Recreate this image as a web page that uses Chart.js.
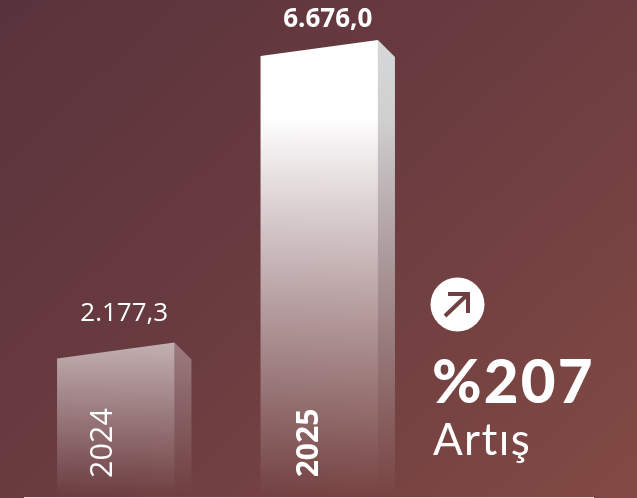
<!DOCTYPE html>
<html lang="tr">
<head>
  <meta charset="UTF-8">
  <title>Artış</title>
  <script src="https://cdn.jsdelivr.net/npm/chart.js"></script>
  <style>
    html, body {
      margin: 0;
      padding: 0;
      width: 637px;
      height: 498px;
      overflow: hidden;
    }
    body {
      position: relative;
      font-family: Lato, sans-serif;
      color: #fff;
      background: linear-gradient(137deg, #59333c 0%, #6b3c40 50%, #824a44 100%);
    }
    #wrap {
      position: absolute;
      left: 0;
      top: 0;
      width: 637px;
      height: 498px;
    }
    #icon {
      position: absolute;
      left: 430px;
      top: 277px;
    }
    #pct {
      position: absolute;
      left: 432px;
      top: 347px;
      font-size: 60px;
      font-weight: 900;
      line-height: 66px;
      letter-spacing: 2.2px;
    }
    #sub {
      position: absolute;
      left: 433px;
      top: 413px;
      font-size: 44px;
      line-height: 50px;
      letter-spacing: 1.4px;
    }
  </style>
</head>
<body>
  <div id="wrap"><canvas id="chart" width="637" height="498"></canvas></div>
  <svg id="icon" width="55" height="55" viewBox="0 0 55 55">
    <circle cx="27.5" cy="27.5" r="27" fill="#fff"/>
    <path d="M15 39 L38 17 M18 17 L38 17 L38 36" fill="none" stroke="#6f3f42" stroke-width="4"/>
  </svg>
  <div id="pct">%207</div>
  <div id="sub">Artış</div>

  <script>
    const years = ['2024', '2025'];
    const values = [2177.3, 6676.0];
    const valueLabels = ['2.177,3', '6.676,0'];
    const boldBar = [false, true];

    const slant = 8;
    const depth = 17;

    function frontGradient(ctx, top, base, i) {
      const g = ctx.createLinearGradient(0, top, 0, base);
      if (i === 1) {
        g.addColorStop(0, 'rgba(255,255,255,1)');
        g.addColorStop(0.17, 'rgba(255,255,255,1)');
        g.addColorStop(1, 'rgba(255,255,255,0)');
      } else {
        g.addColorStop(0, 'rgba(255,255,255,0.6)');
        g.addColorStop(1, 'rgba(255,255,255,0)');
      }
      return g;
    }

    function sideGradient(ctx, top, base, i) {
      const g = ctx.createLinearGradient(0, top, 0, base);
      if (i === 1) {
        g.addColorStop(0, 'rgba(214,216,217,1)');
        g.addColorStop(0.17, 'rgba(214,216,217,0.95)');
        g.addColorStop(1, 'rgba(214,216,217,0)');
      } else {
        g.addColorStop(0, 'rgba(255,255,255,0.33)');
        g.addColorStop(1, 'rgba(255,255,255,0)');
      }
      return g;
    }

    // the bars get a slanted top and a side face, so they are drawn here
    const slantBars = {
      id: 'slantBars',
      afterDatasetsDraw(chart) {
        const ctx = chart.ctx;
        const bars = chart.getDatasetMeta(0).data;
        bars.forEach((bar, i) => {
          const left = bar.x - bar.width / 2;
          const right = bar.x + bar.width / 2;
          const base = bar.base;
          const topL = bar.y + slant;
          const topR = bar.y - slant;

          ctx.save();
          ctx.fillStyle = sideGradient(ctx, topR, base, i);
          ctx.beginPath();
          ctx.moveTo(right, topR);
          ctx.lineTo(right + depth, topR + depth);
          ctx.lineTo(right + depth, base);
          ctx.lineTo(right, base);
          ctx.closePath();
          ctx.fill();

          ctx.fillStyle = frontGradient(ctx, topR, base, i);
          ctx.beginPath();
          ctx.moveTo(left, topL);
          ctx.lineTo(right, topR);
          ctx.lineTo(right, base);
          ctx.lineTo(left, base);
          ctx.closePath();
          ctx.fill();

          // value above the bar
          ctx.fillStyle = '#fff';
          ctx.textAlign = 'center';
          ctx.textBaseline = 'middle';
          ctx.font = (boldBar[i] ? 'bold ' : '') + '26px "Open Sans", sans-serif';
          ctx.fillText(valueLabels[i], bar.x + 8.5, topR - (i === 1 ? 20 : 29));

          // year, rotated, inside the bar
          ctx.translate(bar.x - (i === 1 ? 10 : 12), base - 54);
          ctx.rotate(-Math.PI / 2);
          ctx.font = (boldBar[i] ? 'bold ' : '') + (i === 1 ? '30px' : '30.5px') + ' "Open Sans", sans-serif';
          ctx.fillText(years[i], 0, 0);
          ctx.restore();
        });

        // baseline
        ctx.save();
        ctx.fillStyle = '#efdcdc';
        ctx.fillRect(24, 497, 570, 1);
        ctx.restore();
      }
    };

    new Chart(document.getElementById('chart'), {
      type: 'bar',
      data: {
        labels: years,
        datasets: [{
          data: values,
          backgroundColor: 'rgba(0,0,0,0)',
          barPercentage: 1,
          categoryPercentage: 0.577
        }]
      },
      options: {
        responsive: false,
        animation: false,
        layout: { padding: { left: 14, right: 216, top: 0, bottom: 1 } },
        plugins: {
          legend: { display: false },
          tooltip: { enabled: false }
        },
        scales: {
          x: { display: false },
          y: { display: false, min: 0, max: 7390 }
        }
      },
      plugins: [slantBars]
    });
  </script>
</body>
</html>
